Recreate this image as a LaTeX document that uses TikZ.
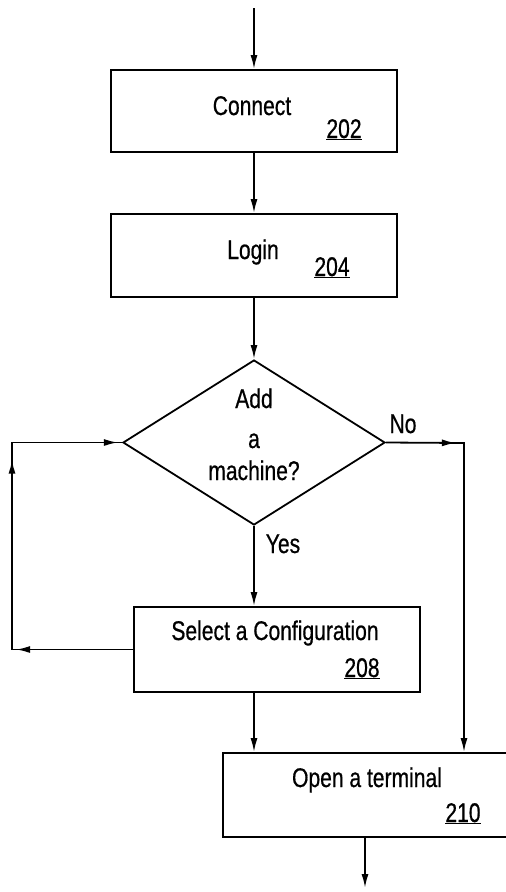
\documentclass[tikz,border=0pt]{standalone}
\usepackage{fontspec}
\setmainfont{Liberation Sans}[FakeStretch=0.78,FakeBold=0.6]
\usetikzlibrary{arrows.meta,shapes.geometric,decorations.markings}
\begin{document}
\begin{tikzpicture}[x=1pt,y=-1pt,
  >={Latex[length=14pt,width=7pt]},
  box/.style={draw,line width=1.8pt,inner sep=0pt,rectangle},
  lbl/.style={font=\fontsize{27}{32}\selectfont,inner sep=0pt,anchor=base},
  flow/.style={line width=1.8pt,->},
  plain/.style={line width=1.8pt}]
\useasboundingbox (0,0) rectangle (506,892);
\clip (0,0) rectangle (506,892);
% boxes
\node[box,minimum width=286pt,minimum height=82pt] (con) at (254,111) {};
\node[lbl] (tcon) at (252,115) {Connect};
\node[lbl] (ncon) at (344,138) {\underline{202}};
\node[box,minimum width=286pt,minimum height=83pt] (log) at (254,255.5) {};
\node[lbl] (tlog) at (253,259) {Login};
\node[lbl] (nlog) at (332,276) {\underline{204}};
\node[draw,diamond,line width=1.8pt,minimum width=262pt,minimum height=165pt,inner sep=0pt] (dia) at (254,442.5) {};
\node[lbl] (d1) at (254,408) {Add};
\node[lbl] (d2) at (254,448) {a};
\node[lbl] (d3) at (254,480) {machine?};
\node[lbl] (no) at (403,433) {No};
\node[lbl] (yes) at (283,553) {Yes};
\node[box,minimum width=286pt,minimum height=85pt] (sel) at (277,649.5) {};
\node[lbl] (tsel) at (275,640) {Select a Configuration};
\node[lbl] (nsel) at (362,677) {\underline{208}};
\node[box,minimum width=292pt,minimum height=84pt] (opn) at (369,795) {};
\node[lbl] (topn) at (367,787) {Open a terminal};
\node[lbl] (nopn) at (463,822) {\underline{210}};
% free ends and corners
\coordinate (start) at (254,8);
\coordinate (rt) at (464,443);
\coordinate (lb) at (12,649.5);
\coordinate (lt) at (12,442.5);
\coordinate (end) at (365,888);
% connectors
\draw[flow] (start) -- (con.north);
\draw[flow] (con.south) -- (log.north);
\draw[flow] (log.south) -- (dia.north);
\draw[flow] (dia.south) -- (dia.south |- sel.north);
\draw[flow] (dia.south |- sel.south) -- (dia.south |- opn.north);
\draw[flow,postaction={decorate},decoration={markings,mark=at position 70pt with {\arrow{>}}}]
  (dia.east) -- (rt) -- (rt |- opn.north);
\draw[flow] (end |- opn.south) -- (end);
\draw[plain,postaction={decorate},decoration={markings,
    mark=at position 117pt with {\arrow{>}},
    mark=at position 311pt with {\arrow{>}},
    mark=at position 434pt with {\arrow{>}}}]
  (sel.west) -- (lb) -- (lt) -- (dia.west);
\end{tikzpicture}
\end{document}
